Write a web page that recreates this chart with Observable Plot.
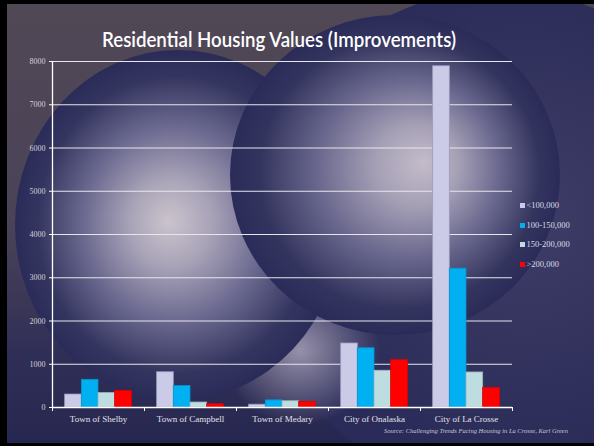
<!DOCTYPE html>
<html><head><meta charset="utf-8">
<script src="https://cdn.jsdelivr.net/npm/d3@7"></script>
<script src="https://cdn.jsdelivr.net/npm/@observablehq/plot@0.6"></script>
<style>
html,body{margin:0;padding:0;background:#000;}
#wrap{position:relative;width:594px;height:446px;background:#000;overflow:hidden;}
#bg{position:absolute;left:0;top:0;}
#title{position:absolute;left:0;top:28px;width:558px;text-align:center;font-family:Lato,sans-serif;font-weight:600;font-size:21px;line-height:21px;color:#fff;white-space:nowrap;}
#title span{display:inline-block;transform-origin:center;}
#chart{position:absolute;left:0;top:52px;}
#legend{position:absolute;left:520px;top:0;font-family:"Liberation Serif",serif;font-size:8.5px;color:#dcdce6;}
.lrow{position:absolute;left:0;height:10px;display:flex;align-items:center;white-space:nowrap;}
.sw{width:5px;height:5px;margin-right:1.5px;}
#source{position:absolute;right:26px;top:427px;font-family:"Liberation Serif",serif;font-style:italic;font-size:6.5px;line-height:8px;color:#c8c8d8;white-space:nowrap;}
</style></head><body>
<div id="wrap">
<svg id="bg" width="594" height="446">
<defs>
<clipPath id="inner"><rect x="7" y="4" width="587" height="439"/></clipPath>
<linearGradient id="base" x1="0" y1="0" x2="0" y2="1">
<stop offset="0" stop-color="#514855"/><stop offset="0.5" stop-color="#4a4358"/><stop offset="0.8" stop-color="#2f2e56"/><stop offset="1" stop-color="#262750"/>
</linearGradient>
<radialGradient id="gT" cx="0.55" cy="0.45" r="0.5">
<stop offset="0" stop-color="#3e3d66"/><stop offset="1" stop-color="#2a2b58"/>
</radialGradient>
<radialGradient id="gGlow" cx="0.5" cy="0.5" r="0.5">
<stop offset="0" stop-color="#9c96ae" stop-opacity="0.95"/><stop offset="1" stop-color="#9c96ae" stop-opacity="0"/>
</radialGradient>
<radialGradient id="gL" cx="0.5" cy="0.5" r="0.5" fx="0.47" fy="0.49">
<stop offset="0" stop-color="#cbc3cc"/><stop offset="0.25" stop-color="#a9a3b8"/><stop offset="0.55" stop-color="#6c6a90"/><stop offset="0.85" stop-color="#34355f"/><stop offset="1" stop-color="#2a2b58"/>
</radialGradient>
<radialGradient id="gR" cx="0.5" cy="0.5" r="0.5" fx="0.59" fy="0.46">
<stop offset="0" stop-color="#c4bcca"/><stop offset="0.25" stop-color="#a6a0b6"/><stop offset="0.55" stop-color="#6a688e"/><stop offset="0.85" stop-color="#33345e"/><stop offset="1" stop-color="#2a2b58"/>
</radialGradient>
</defs>
<g clip-path="url(#inner)">
<rect x="0" y="0" width="594" height="446" fill="url(#base)"/>
<circle cx="500" cy="240" r="250" fill="url(#gT)"/>
<ellipse cx="300" cy="350" rx="80" ry="75" fill="url(#gGlow)"/>
<ellipse cx="178" cy="225" rx="163" ry="175" fill="url(#gL)"/>
<ellipse cx="395" cy="175" rx="165" ry="160" fill="url(#gR)"/>
</g>
</svg>
<div id="title"><span>Residential Housing Values (Improvements)</span></div>
<div id="chart"></div>
<div id="legend"></div>
<div id="source">Source: Challenging Trends Facing Housing in La Crosse, Karl Green</div>
</div>
<script>
const categories = ["Town of Shelby", "Town of Campbell", "Town of Medary", "City of Onalaska", "City of La Crosse"];
const seriesNames = ["<100,000", "100-150,000", "150-200,000", ">200,000"];
const colors = ["#cbcbe7", "#00b0f0", "#bddde1", "#ff0000"];
const edgeColors = ["#9a9ac0", "#0a92cc", "#98b6bc", "#e00000"];
const shelby = [300, 640, 335, 385];
const campbell = [815, 495, 115, 75];
const medary = [65, 165, 145, 130];
const onalaska = [1480, 1370, 850, 1095];
const laCrosse = [7890, 3210, 810, 450];
const yTicks = [0, 1000, 2000, 3000, 4000, 5000, 6000, 7000, 8000];
const legendY = [205, 225, 244, 264];

const values = [shelby, campbell, medary, onalaska, laCrosse];
const groupPad = 0.1375;
const barW = (1 - 2 * groupPad) / seriesNames.length;
const rows = categories.flatMap((c, i) => seriesNames.map((s, j) => ({
  cat: c, series: s, value: values[i][j],
  x1: i + groupPad + j * barW, x2: i + groupPad + (j + 1) * barW,
  edge: edgeColors[j]
})));

const chart = Plot.plot({
  width: 520, height: 380,
  marginLeft: 52, marginRight: 8, marginTop: 9, marginBottom: 25,
  style: {background: "transparent", fontFamily: "'Liberation Serif', serif", color: "#d8d8e2", overflow: "visible"},
  x: {type: "linear", domain: [0, categories.length]},
  y: {domain: [0, 8000]},
  color: {domain: seriesNames, range: colors},
  marks: [
    Plot.gridY(yTicks.slice(1), {stroke: "#e6e6ee", strokeOpacity: 1, strokeWidth: 1}),
    Plot.rectY(rows, {x1: "x1", x2: "x2", y: "value", fill: "series", stroke: "edge", strokeWidth: 0.8}),
    Plot.ruleX([0], {stroke: "#ffffff", strokeWidth: 1.3}),
    Plot.ruleY([0], {stroke: "#ffffff", strokeWidth: 1.5}),
    Plot.axisY({ticks: yTicks, tickSize: 3, tickPadding: 4, tickFormat: d => String(d), fontSize: 8, stroke: "#ffffff", fill: "#cfcfdb", label: null}),
    Plot.axisX({ticks: d3.range(categories.length + 1), tickSize: 4, tickFormat: () => "", stroke: "#ffffff", label: null}),
    Plot.axisX({ticks: categories.map((c, i) => i + 0.5), tickSize: 0, tickPadding: 8, tickFormat: d => categories[Math.round(d - 0.5)], fontSize: 9, fill: "#e2e2ea", label: null})
  ]
});
document.getElementById("chart").appendChild(chart);

const legend = document.getElementById("legend");
seriesNames.forEach((s, j) => {
  const row = document.createElement("div");
  row.className = "lrow";
  row.style.top = (legendY[j] - 5) + "px";
  const sw = document.createElement("div");
  sw.className = "sw";
  sw.style.background = colors[j];
  const t = document.createElement("span");
  t.textContent = s;
  row.appendChild(sw); row.appendChild(t);
  legend.appendChild(row);
});

const ts = document.querySelector("#title span");
const w = ts.getBoundingClientRect().width;
ts.style.transform = "scaleX(" + (354 / w) + ")";
</script>
</body></html>
